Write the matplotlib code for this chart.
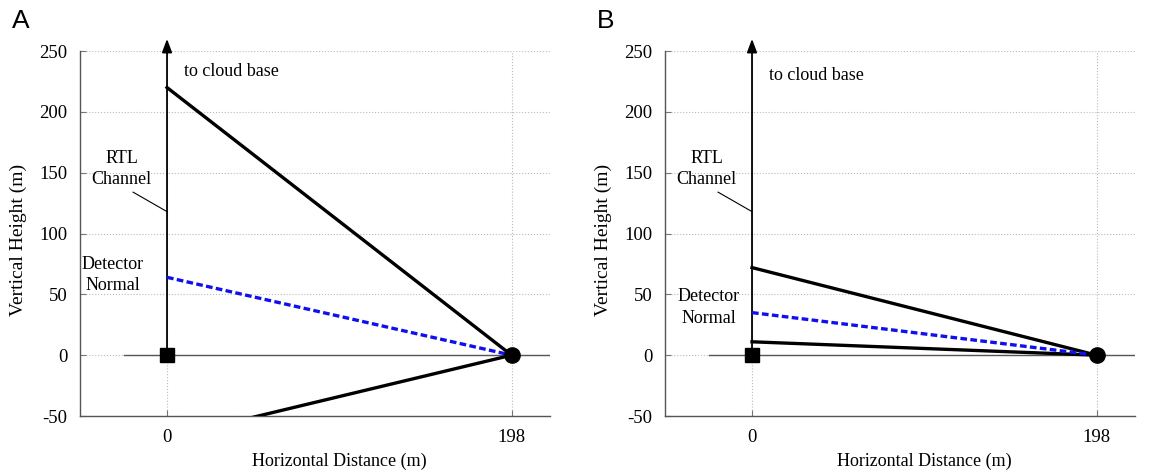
import matplotlib
matplotlib.use("Agg")
import matplotlib.pyplot as plt

plt.rcParams['font.family'] = ['Liberation Serif', 'DejaVu Serif']
plt.rcParams['axes.unicode_minus'] = False

# Data
panels = ["A", "B"]
detector_x = 198
channel_height = 260
upper_y0 = [220, 72]
normal_y0 = [64, 35]
lower_y0 = [-68, 11]
yticks = [-50, 0, 50, 100, 150, 200, 250]
xticks = [0, 198]
xticklabels = ["0", "198"]
rtl_label = "RTL\nChannel"
det_label = "Detector\nNormal"
cloud_label = "to cloud base"
det_label_pos = [(-31, 66), (-25, 39)]

fig = plt.figure(figsize=(11.63, 4.73), dpi=100)
axes_rects = [[0.0688, 0.1205, 0.404, 0.7716], [0.5718, 0.1205, 0.404, 0.7716]]
panel_label_x = [0.010, 0.513]

for i, p in enumerate(panels):
    ax = fig.add_axes(axes_rects[i])
    ax.set_xlim(-50, 220)
    ax.set_ylim(-50, 250)
    for s in ["top", "right"]:
        ax.spines[s].set_visible(False)
    for s in ["left", "bottom"]:
        ax.spines[s].set_color("#555555")
        ax.spines[s].set_linewidth(1.0)
    ax.set_yticks(yticks)
    ax.set_xticks(xticks)
    ax.set_xticklabels(xticklabels)
    ax.tick_params(direction="in", length=4, color="#777777", labelsize=13.5, pad=9)
    ax.grid(True, linestyle=":", color="#bbbbbb", linewidth=0.8)
    ax.set_axisbelow(True)

    # ground line
    ax.plot([-25, 220], [0, 0], color="#555555", lw=1.0, zorder=2)
    # channel arrow
    ax.annotate("", xy=(0, channel_height), xytext=(0, 0),
                arrowprops=dict(arrowstyle="-|>,head_length=0.8,head_width=0.3",
                                color="black", lw=1.3, shrinkA=0, shrinkB=0),
                annotation_clip=False, zorder=3)
    # lines
    ax.plot([0, detector_x], [upper_y0[i], 0], color="black", lw=2.4, zorder=4)
    ax.plot([0, detector_x], [lower_y0[i], 0], color="black", lw=2.4, zorder=4)
    ax.plot([0, detector_x], [normal_y0[i], 0], color="#1010ee", lw=2.4,
            linestyle=(0, (2, 1)), zorder=5)
    # markers
    ax.plot([0], [0], marker="s", color="black", markersize=10, zorder=6, clip_on=False)
    ax.plot([detector_x], [0], marker="o", color="black", markersize=11, zorder=6, clip_on=False)

    # text
    ax.text(10, 233 if i == 0 else 230, cloud_label, fontsize=13, ha="left", va="center")
    ax.text(-26, 153, rtl_label, fontsize=13, ha="center", va="center", linespacing=1.25)
    ax.plot([-19.5, 0], [134, 118], color="black", lw=0.8)
    ax.text(det_label_pos[i][0], det_label_pos[i][1], det_label, fontsize=13,
            ha="center", va="center", linespacing=1.35)

    ax.set_xlabel("Horizontal Distance (m)", fontsize=13)
    ax.xaxis.set_label_coords(0.552, -0.10)
    ax.set_ylabel("Vertical Height (m)", fontsize=14)
    ax.yaxis.set_label_coords(-0.113, 0.482)

    fig.text(panel_label_x[i], 0.955, p, fontsize=19, family="Liberation Sans",
             ha="left", va="center")

fig.savefig("out.png", dpi=100)
